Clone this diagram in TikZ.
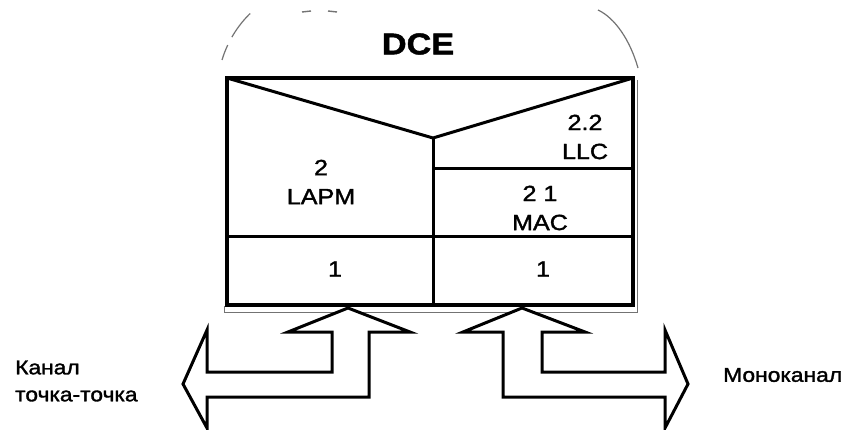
\documentclass[tikz,border=0pt]{standalone}
\usepackage{xcolor}
\usepackage{tikz}
\usepackage{fontspec}
\setmainfont[FakeStretch=1.14, FakeBold=1.6]{Liberation Sans}

\tikzset{
    layer/.style={font=\fontsize{22}{29}\selectfont, align=center, inner sep=0pt},
    sidetext/.style={font=\fontsize{20}{27}\selectfont, align=left, inner sep=0pt},
    boxline/.style={line width=4pt, line join=miter},
    innerline/.style={line width=3pt},
    blockarrow/.style={draw, line width=3pt, fill=white, line join=miter},
    scanline/.style={black!55, line width=0.9pt},
}

\begin{document}
\begin{tikzpicture}[x=1pt, y=-1pt]
    \useasboundingbox (0,0) rectangle (853,430);

    \coordinate (nw) at (227,78);
    \coordinate (ne) at (633,78);
    \coordinate (sw) at (227,305);
    \coordinate (se) at (633,305);
    \coordinate (apex) at (433,138);

    \draw[scanline] (224,306) -- (224,312) -- (637,312) -- (637,80);
    \draw[scanline, line width=1.2pt, dash pattern=on 16pt off 9pt on 30pt off 40pt] (222,60) .. controls (228,40) and (240,22) .. (254,10);
    \draw[scanline, line width=1.4pt] (302,12) -- (311,11) (328,11) -- (337,12);
    \draw[scanline, line width=1.2pt] (598,10) .. controls (615,18) and (630,40) .. (638,68);

    \draw[boxline] (nw) rectangle (se);
    \draw[innerline] (nw) -- (apex) -- (ne);
    \draw[innerline] (apex) -- (apex |- sw);
    \draw[innerline] (227,237) -- (633,237);
    \draw[innerline] (433,169) -- (633,169);

    \node[font=\fontsize{30}{30}\selectfont\bfseries, inner sep=0pt] (dce) at (418,44) {DCE};
    \node[layer] (lapm) at (321,182) {2\\LAPM};
    \node[layer] (llc) at (585,137) {2.2\\LLC};
    \node[layer] (mac) at (540,208) {2 1\\MAC};
    \node[layer] (phyl) at (335,269) {1};
    \node[layer] (phyr) at (543,269) {1};

    \draw[blockarrow] (348,308) -- (410,332) -- (369,332) -- (369,397) -- (207,397) -- (207,428)
        -- (183,384) -- (207,330) -- (207,372) -- (332,372) -- (332,332) -- (288,332) -- cycle;
    \draw[blockarrow] (522,308) -- (585,332) -- (542,332) -- (542,372) -- (665,372) -- (665,330)
        -- (688,384) -- (665,428) -- (665,397) -- (503,397) -- (503,332) -- (463,332) -- cycle;

    \node[sidetext, anchor=west] (kanal) at (15,381) {Канал\\точка-точка};
    \node[sidetext, anchor=west] (mono) at (723,375) {Моноканал};
\end{tikzpicture}
\end{document}
